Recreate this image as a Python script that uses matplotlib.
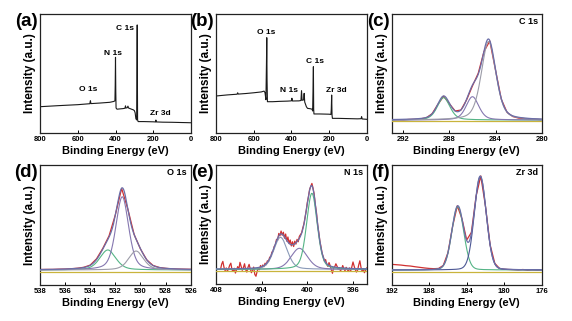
import numpy as np
import matplotlib
matplotlib.use("Agg")
import matplotlib.pyplot as plt

plt.rcParams['font.family'] = ['Liberation Sans', 'DejaVu Sans']
plt.rcParams['font.weight'] = 'bold'
plt.rcParams['axes.labelweight'] = 'bold'

# ---------------- survey spectra ----------------
survey_a_energy = [800, 700, 600, 545, 536, 533, 530, 480, 430, 410, 403, 401.5, 400, 398.5,
                   397, 392, 380, 360, 350, 347, 345, 338, 334, 331, 315, 306, 300, 296, 292,
                   288, 286.5, 285, 284, 283, 280, 250, 200, 188, 186, 184, 150, 100, 50, 20, 0]
survey_a_counts = [22.1, 23.0, 23.8, 24.5, 24.6, 27.2, 24.7, 25.2, 25.8, 26.5, 27.0, 40.0, 63.6, 35.0,
                   21.0, 20.0, 20.2, 20.5, 20.8, 22.8, 21.0, 21.2, 22.6, 21.0, 20.0, 19.5, 18.8, 17.0, 12.0,
                   11.0, 40.0, 90.8, 45.0, 11.0, 9.6, 9.6, 9.4, 9.3, 10.9, 9.3, 9.1, 9.0, 8.8, 8.7, 8.6]

survey_b_energy = [800, 740, 688, 685, 682, 640, 600, 560, 545, 540, 535, 532, 530.5, 529, 527,
                   500, 460, 420, 400, 397, 394, 360, 349, 346, 343, 335, 332, 329, 320, 314,
                   300, 290, 287, 284.5, 283, 281.5, 280, 250, 200, 190, 188, 186, 184, 182,
                   150, 100, 50, 30, 27, 24, 0]
survey_b_counts = [31.1, 32.0, 32.6, 33.8, 32.7, 33.2, 33.8, 34.5, 35.2, 34.0, 28.0, 60.0, 80.1, 45.0, 26.3,
                   26.3, 26.6, 26.8, 27.0, 29.2, 26.9, 27.0, 27.3, 35.6, 27.5, 27.8, 33.3, 26.0, 22.0, 20.7,
                   20.4, 20.0, 18.5, 40.0, 55.7, 20.0, 16.0, 16.0, 15.8, 15.6, 20.0, 31.9, 15.0, 12.3,
                   12.3, 12.1, 11.9, 12.0, 13.7, 11.8, 11.5]

survey_a_labels = ["O 1s", "N 1s", "C 1s", "Zr 3d"]
survey_b_labels = ["O 1s", "N 1s", "C 1s", "Zr 3d"]

# ---------------- high-resolution spectra ----------------
# C 1s
c1s_energy = [293, 292.5, 292, 291.5, 291, 290.5, 290, 289.5, 289, 288.5, 288, 287.5, 287, 286.5,
              286, 285.5, 285, 284.5, 284, 283.5, 283, 282.5, 282, 281.5, 281, 280.5, 280]
c1s_counts = [10.9, 11.1, 11.0, 11.4, 11.5, 11.9, 12.8, 16.2, 24.0, 30.9, 24.6, 18.5, 19.3, 28.0,
              39.6, 50.2, 68.5, 77.3, 52.7, 28.4, 17.3, 13.8, 12.5, 12.1, 11.6, 11.5, 11.2]
c1s_centers = [288.5, 286.0, 284.6]
c1s_heights = [18.8, 19.6, 66.0]
c1s_fwhm = [1.3, 1.3, 1.5]

# O 1s
o1s_energy = [538, 537.5, 537, 536.5, 536, 535.5, 535, 534.5, 534, 533.5, 533, 532.5, 532,
              531.5, 531, 530.5, 530, 529.5, 529, 528.5, 528, 527.5, 527, 526.5, 526]
o1s_counts = [12.9, 13.0, 13.0, 13.2, 13.3, 13.6, 14.0, 14.8, 16.6, 21.8, 30.5, 41.0, 58.5,
              80.5, 63.0, 42.0, 30.0, 21.0, 16.3, 14.6, 13.9, 13.5, 13.3, 13.2, 13.1]
o1s_centers = [532.6, 531.45, 530.35]
o1s_heights = [16.7, 61.0, 15.8]
o1s_fwhm = [1.5, 1.2, 1.4]

# N 1s (407.6 -> 394.8 eV, 0.1 eV steps)
n1s_counts = [12.5, 16.8, 19.0, 14.0, 11.2, 13.5, 10.8, 12.9, 15.8, 17.5,
              12.0, 10.5, 13.2, 9.2, 11.8, 14.6, 12.2, 18.2, 15.0, 11.5,
              13.8, 17.0, 12.0, 10.0, 14.0, 16.5, 12.8, 9.5, 11.5, 14.2,
              8.0, 6.5, 10.5, 13.0, 12.0, 15.5, 13.8, 16.0, 14.5, 17.5,
              16.2, 19.5, 18.8, 22.5, 23.0, 26.8, 27.5, 31.5, 33.0, 37.5,
              36.8, 42.5, 40.5, 44.5, 41.0, 43.5, 38.5, 42.0, 36.0, 39.5,
              34.0, 37.0, 32.0, 35.5, 31.5, 36.0, 33.5, 37.5, 35.5, 40.0,
              41.5, 43.0, 47.0, 50.5, 56.0, 61.5, 68.5, 73.5, 79.5, 82.0,
              84.5, 80.5, 75.5, 66.5, 60.0, 50.0, 43.5, 36.0, 31.0, 25.5,
              22.8, 19.0, 20.5, 16.5, 14.8, 18.0, 15.5, 12.0, 9.0, 13.5,
              14.5, 17.0, 15.0, 12.5, 13.8, 11.0, 12.5, 15.5, 13.0, 11.0,
              14.0, 12.0, 10.5, 13.5, 11.0, 14.5, 18.5, 15.0, 12.0, 10.0,
              11.5, 16.0, 19.5, 14.0, 10.5, 12.5, 9.5, 11.5, 13.5]
n1s_start, n1s_stop = 407.6, 394.8
n1s_centers = [402.35, 400.7, 399.6]
n1s_heights = [26.9, 17.7, 63.9]
n1s_fwhm = [1.4, 1.7, 1.1]

# Zr 3d
zr3d_energy = [192, 191.5, 191, 190.5, 190, 189.5, 189, 188.5, 188, 187.5, 187, 186.5, 186, 185.5,
               185, 184.5, 184, 183.5, 183, 182.5, 182, 181.5, 181, 180.5, 180, 179.5, 179, 178.5,
               178, 177.5, 177, 176.5, 176]
zr3d_counts = [17.2, 16.9, 16.6, 16.1, 15.8, 15.2, 14.7, 14.2, 13.8, 13.6, 13.8, 16.3, 26.9, 49.0,
               66.0, 55.1, 37.5, 43.8, 74.0, 90.9, 65.8, 33.4, 18.0, 13.8, 13.1, 12.9, 12.8, 12.6,
               12.9, 12.4, 12.7, 12.5, 12.6]
zr3d_centers = [184.95, 182.55]
zr3d_heights = [52.8, 77.8]
zr3d_fwhm = [1.5, 1.5]

RAW = '#d03030'
ENV = '#6b6ea8'
BG = '#c9b43c'
GREEN = '#55b486'
GRAY = '#9c9ca8'
VIOLET = '#8577b0'
BLUE = '#4c5794'
STEEL = '#8a9ab8'


def pseudo_voigt(x, center, height, fwhm, eta):
    u = (x - center) / fwhm
    g = np.exp(-4 * np.log(2) * u ** 2)
    lor = 1.0 / (1.0 + 4 * u ** 2)
    return height * ((1 - eta) * g + eta * lor)


fig = plt.figure(figsize=(5.72, 3.21), dpi=100)
W, H = 572.0, 321.0


def make_axes(x0, x1, ytop, ybot):
    return fig.add_axes([x0 / W, 1 - ybot / H, (x1 - x0) / W, (ybot - ytop) / H])


axes = {
    'a': make_axes(40, 191, 14, 133),
    'b': make_axes(216, 366.7, 14, 133),
    'c': make_axes(391.7, 541.7, 14, 133),
    'd': make_axes(40, 190.7, 165, 285),
    'e': make_axes(216, 366.7, 165, 284),
    'f': make_axes(391.7, 541.7, 165, 285),
}

for key, ax in axes.items():
    ax.set_ylim(0, 100)
    ax.set_yticks([])
    for s in ax.spines.values():
        s.set_linewidth(0.9)
        s.set_color('#222222')
    ax.tick_params(axis='x', direction='in', length=2.5, width=0.7, labelsize=5.5, pad=2)
    ax.set_xlabel('Binding Energy (eV)', fontsize=8, fontweight='bold', labelpad=2)
    ax.set_ylabel('Intensity (a.u.)', fontsize=8.5, fontweight='bold', labelpad=3)
    bbox = ax.get_position()
    fig.text(bbox.x0 - 2 / W, bbox.y1 + 1 / H, '(%s)' % key, fontsize=13.5,
             fontweight='bold', ha='right', va='top')

# survey (a)
ax = axes['a']
ax.plot(survey_a_energy, survey_a_counts, color='#1a1a1a', lw=0.8)
ax.set_xlim(800, 0)
ax.set_xticks([800, 600, 400, 200, 0])
for txt, (xe, yv) in zip(survey_a_labels, [(543, 36.7), (411, 67), (349, 87.4), (163, 16.5)]):
    ax.text(xe, yv, txt, fontsize=6, fontweight='bold', ha='center', va='center')

# survey (b)
ax = axes['b']
ax.plot(survey_b_energy, survey_b_counts, color='#1a1a1a', lw=0.8)
ax.set_xlim(800, 0)
ax.set_xticks([800, 600, 400, 200, 0])
for txt, (xe, yv) in zip(survey_b_labels, [(531, 84.5), (412, 35.3), (274, 59.7), (159, 35.9)]):
    ax.text(xe, yv, txt, fontsize=6, fontweight='bold', ha='center', va='center')


def draw_fit(ax, energy, counts, centers, heights, fwhm, colors, base, bg, eta, xlim, ticks, title):
    ax.set_xlim(*xlim)
    ax.set_xticks(ticks)
    grid = np.linspace(min(xlim), max(xlim), 800)
    ax.plot(energy, counts, color=RAW, lw=0.9, zorder=2)
    ax.plot([xlim[0], xlim[1]], [bg, bg], color=BG, lw=0.9, zorder=3)
    total = np.zeros_like(grid)
    for c, h, w, col in zip(centers, heights, fwhm, colors):
        comp = pseudo_voigt(grid, c, h, w, eta)
        total += comp
        ax.plot(grid, base + comp, color=col, lw=0.8, zorder=4)
    ax.plot(grid, base + total, color=ENV, lw=0.9, zorder=5)
    ax.text(0.975, 0.935, title, transform=ax.transAxes, fontsize=6.5,
            fontweight='bold', ha='right', va='center')


draw_fit(axes['c'], c1s_energy, c1s_counts, c1s_centers, c1s_heights, c1s_fwhm,
         [GREEN, VIOLET, GRAY], 10.9, 10.0, 0.4, (293, 280), [292, 288, 284, 280], 'C 1s')
draw_fit(axes['d'], o1s_energy, o1s_counts, o1s_centers, o1s_heights, o1s_fwhm,
         [GREEN, VIOLET, GRAY], 12.5, 10.6, 0.4, (538, 526),
         [538, 536, 534, 532, 530, 528, 526], 'O 1s')
n1s_energy = np.linspace(n1s_start, n1s_stop, len(n1s_counts))
draw_fit(axes['e'], n1s_energy, n1s_counts, n1s_centers, n1s_heights, n1s_fwhm,
         [STEEL, VIOLET, GREEN], 12.3, 10.8, 0.3, (408, 394.8), [408, 404, 400, 396], 'N 1s')
draw_fit(axes['f'], zr3d_energy, zr3d_counts, zr3d_centers, zr3d_heights, zr3d_fwhm,
         [GREEN, BLUE], 12.5, 10.6, 0.1, (192, 176), [192, 188, 184, 180, 176], 'Zr 3d')

fig.savefig('out.png', dpi=100)
